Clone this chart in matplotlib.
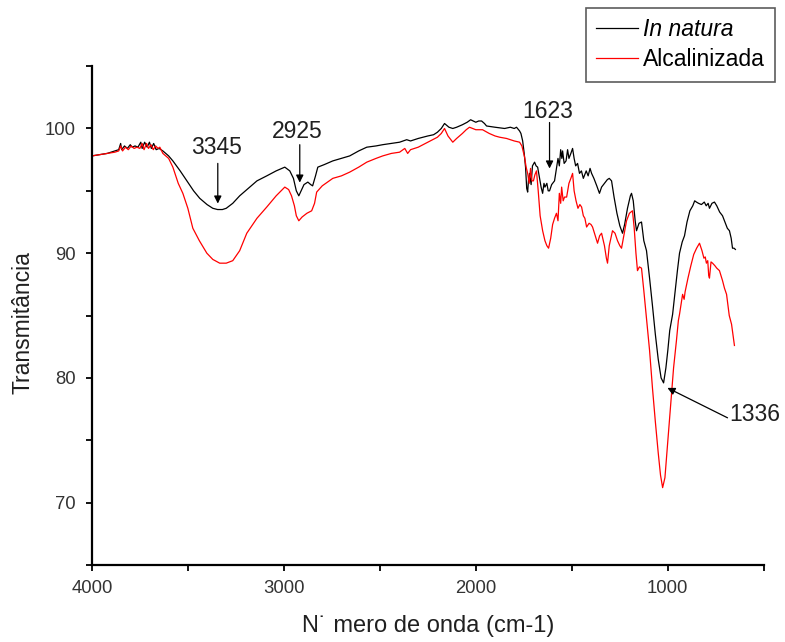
import matplotlib
matplotlib.use("Agg")
import matplotlib.pyplot as plt
from matplotlib.ticker import MultipleLocator

plt.rcParams['font.family'] = ['Liberation Sans', 'DejaVu Sans']

# In natura spectrum (wavenumber cm-1, transmittance %)
wn_natura = [4000, 3960, 3920, 3880, 3860, 3850, 3845, 3830, 3815, 3800, 3790, 3775, 3760, 3745, 3738,
             3725, 3712, 3700, 3690, 3678, 3665, 3650, 3630, 3600, 3578, 3540, 3505, 3470, 3438, 3400,
             3370, 3345, 3320, 3300, 3266, 3230, 3200, 3177, 3140, 3089, 3040, 2995, 2969, 2950, 2935,
             2922, 2910, 2895, 2875, 2860, 2850, 2835, 2823, 2790, 2745, 2700, 2657, 2610, 2568, 2520,
             2485, 2440, 2397, 2360, 2340, 2300, 2250, 2220, 2200, 2180, 2163, 2140, 2120, 2100, 2070,
             2045, 2027, 2000, 1985, 1970, 1955, 1944, 1900, 1850, 1820, 1800, 1788, 1772, 1765, 1756,
             1748, 1741, 1735, 1730, 1725, 1720, 1712, 1705, 1694, 1686, 1678, 1668, 1660, 1652, 1645,
             1640, 1630, 1623, 1616, 1605, 1590, 1580, 1572, 1565, 1558, 1552, 1548, 1540, 1530, 1522,
             1515, 1505, 1496, 1488, 1480, 1470, 1460, 1450, 1440, 1425, 1415, 1405, 1397, 1385, 1370,
             1356, 1345, 1330, 1315, 1305, 1293, 1280, 1265, 1250, 1236, 1225, 1210, 1195, 1189, 1180,
             1170, 1163, 1150, 1137, 1125, 1111, 1095, 1080, 1065, 1050, 1035, 1022, 1010, 1000, 990,
             975, 960, 950, 939, 925, 913, 900, 885, 870, 860, 851, 840, 825, 810, 800,
             790, 783, 770, 757, 745, 730, 715, 705, 690, 679, 670, 663, 655, 648]
t_natura = [97.8, 97.9, 98.0, 98.2, 98.3, 98.8, 98.3, 98.6, 98.4, 98.7, 98.5, 98.6, 98.5, 98.9, 98.4,
            98.9, 98.5, 98.9, 98.4, 98.8, 98.3, 98.4, 98.2, 97.8, 97.4, 96.6, 95.8, 95.0, 94.4, 93.9,
            93.6, 93.5, 93.5, 93.6, 94.0, 94.6, 95.0, 95.3, 95.8, 96.2, 96.6, 96.9, 96.6, 96.0, 95.0,
            94.6, 95.0, 95.5, 95.7, 95.5, 95.4, 96.2, 96.9, 97.1, 97.4, 97.6, 97.8, 98.2, 98.5, 98.6,
            98.7, 98.8, 98.9, 99.1, 99.0, 99.2, 99.4, 99.5, 99.7, 100.0, 100.4, 100.1, 100.0, 100.1, 100.3,
            100.5, 100.7, 100.5, 100.6, 100.6, 100.4, 100.2, 100.1, 100.0, 100.1, 100.0, 100.1, 99.8, 99.6, 99.0,
            98.0, 96.9, 95.2, 94.9, 96.0, 96.4, 95.5, 97.0, 97.3, 97.0, 96.9, 96.0, 95.3, 94.8, 95.6,
            95.3, 95.6, 95.0, 95.0, 95.5, 95.8, 96.8, 97.6, 97.0, 98.3, 97.6, 98.2, 97.2, 97.4, 98.3,
            97.6, 98.0, 98.4, 97.6, 97.0, 97.2, 96.4, 96.6, 96.0, 96.6, 96.2, 96.8, 96.4, 96.0, 95.4,
            94.8, 95.3, 95.6, 95.9, 96.0, 95.8, 94.5, 93.2, 92.2, 91.6, 92.3, 93.6, 94.6, 94.8, 94.2,
            92.6, 91.8, 92.4, 92.5, 91.0, 90.2, 88.0, 85.8, 83.5, 81.5, 80.0, 79.6, 80.8, 82.2, 83.8,
            85.1, 87.2, 88.6, 90.0, 90.9, 91.4, 92.5, 93.4, 93.8, 94.2, 94.1, 94.0, 93.9, 94.1, 93.8,
            94.0, 93.6, 94.0, 94.1, 93.8, 93.3, 93.0, 92.6, 92.0, 91.8, 91.2, 90.4, 90.4, 90.3]

# Alkalinized spectrum
wn_alcal = [4000, 3960, 3920, 3880, 3860, 3850, 3840, 3825, 3810, 3795, 3780, 3765, 3750, 3738, 3728,
            3715, 3705, 3692, 3680, 3668, 3655, 3646, 3630, 3600, 3578, 3550, 3526, 3500, 3474, 3440,
            3401, 3370, 3334, 3300, 3266, 3230, 3193, 3140, 3089, 3040, 2995, 2975, 2960, 2945, 2935,
            2922, 2905, 2880, 2855, 2840, 2829, 2800, 2745, 2700, 2657, 2610, 2568, 2520, 2485, 2440,
            2397, 2370, 2355, 2340, 2300, 2250, 2200, 2180, 2163, 2145, 2120, 2100, 2070, 2050, 2033,
            2000, 1965, 1930, 1900, 1876, 1840, 1800, 1772, 1760, 1746, 1738, 1730, 1722, 1715, 1708,
            1700, 1692, 1684, 1675, 1665, 1652, 1640, 1630, 1621, 1610, 1600, 1590, 1580, 1572, 1565,
            1558, 1553, 1545, 1538, 1527, 1515, 1505, 1496, 1488, 1478, 1468, 1458, 1449, 1440, 1432,
            1423, 1410, 1400, 1392, 1380, 1366, 1355, 1345, 1330, 1320, 1314, 1305, 1288, 1275, 1262,
            1250, 1241, 1228, 1215, 1200, 1184, 1175, 1166, 1158, 1148, 1137, 1125, 1111, 1095, 1080,
            1065, 1050, 1038, 1027, 1015, 1000, 985, 970, 955, 945, 939, 930, 923, 915, 910,
            895, 880, 865, 850, 835, 822, 812, 805, 799, 792, 787, 783, 775, 767, 755,
            745, 731, 715, 705, 694, 680, 668, 660, 653]
t_alcal = [97.8, 97.9, 98.0, 98.1, 98.2, 98.6, 98.2, 98.5, 98.3, 98.6, 98.4, 98.5, 98.4, 98.8, 98.3,
           98.8, 98.4, 98.7, 98.3, 98.6, 98.4, 98.5, 98.0, 97.6, 96.9, 95.6, 94.8, 93.6, 92.0, 91.0,
           90.0, 89.5, 89.2, 89.2, 89.4, 90.2, 91.6, 92.8, 93.7, 94.6, 95.3, 95.1, 94.6, 93.8, 93.0,
           92.6, 92.9, 93.2, 93.4, 94.0, 94.9, 95.4, 96.0, 96.2, 96.5, 96.9, 97.3, 97.6, 97.8, 98.0,
           98.1, 98.4, 98.0, 98.3, 98.5, 98.9, 99.3, 99.6, 100.0, 99.4, 98.9, 99.2, 99.6, 99.9, 100.1,
           99.9, 99.9, 99.6, 99.4, 99.3, 99.2, 99.0, 98.9, 98.6, 97.7, 96.9, 96.4, 95.6, 96.8, 95.8,
           95.8, 96.3, 96.6, 95.0, 93.0, 91.8, 91.0, 90.6, 90.4, 91.2, 92.3, 92.8, 93.2, 92.6, 94.8,
           94.0, 95.3, 94.2, 94.5, 94.5, 95.6, 96.0, 96.4, 95.0, 94.2, 93.6, 93.9, 93.7, 93.0, 92.8,
           92.1, 92.4, 92.3, 92.1, 91.5, 90.8, 91.4, 91.6, 90.6, 89.6, 89.2, 90.6, 91.8, 91.6, 91.0,
           90.6, 90.4, 91.5, 92.6, 93.2, 93.4, 92.0, 90.0, 88.6, 88.9, 88.8, 87.0, 84.8, 82.2, 79.2,
           76.5, 74.0, 72.2, 71.2, 72.0, 74.9, 77.8, 80.8, 83.0, 84.6, 85.1, 86.0, 86.7, 86.3, 86.9,
           88.0, 89.0, 89.9, 90.4, 90.8, 90.2, 89.6, 89.7, 89.2, 89.4, 88.2, 88.0, 89.3, 89.2, 89.0,
           88.8, 88.6, 87.8, 87.2, 86.7, 85.0, 84.3, 83.4, 82.6]

# band labels: text, text position, arrow tail, arrow tip
band_labels = ["3345", "2925", "1623", "1336"]
label_pos = [(3352, 98.5), (2928, 99.76), (1626, 101.33), (679, 77.03)]
arrow_tail = [(3344, 97.2), (2917, 98.7), (1616, 100.48), (689, 76.8)]
arrow_tip = [(3344, 93.98), (2917, 95.66), (1616, 96.79), (1002, 79.2)]

fig = plt.figure(figsize=(7.85, 6.42), dpi=100)
ax = fig.add_axes([0.117, 0.12, 0.856, 0.777])

ax.plot(wn_natura, t_natura, color='black', lw=0.9, label='In natura')
ax.plot(wn_alcal, t_alcal, color='red', lw=0.9, label='Alcalinizada')

for i, txt in enumerate(band_labels):
    ha = 'left' if txt == "1336" else 'center'
    ax.text(label_pos[i][0], label_pos[i][1], txt, fontsize=16.5, color='#202020',
            ha=ha, va='center')
    ax.annotate('', xy=arrow_tip[i], xytext=arrow_tail[i],
                arrowprops=dict(arrowstyle='-|>', color='black', lw=0.9,
                                mutation_scale=11, shrinkA=0, shrinkB=0))

ax.set_xlim(4000, 500)
ax.set_ylim(65, 105)
ax.xaxis.set_major_locator(MultipleLocator(1000))
ax.xaxis.set_minor_locator(MultipleLocator(500))
ax.yaxis.set_major_locator(MultipleLocator(10))
ax.yaxis.set_minor_locator(MultipleLocator(5))
ax.set_yticks([70, 80, 90, 100])

for side in ['top', 'right']:
    ax.spines[side].set_visible(False)
for side in ['left', 'bottom']:
    ax.spines[side].set_linewidth(1.6)

ax.tick_params(which='both', direction='out', length=4.5, width=1.3, labelsize=13.3,
               labelcolor='#333333')
ax.tick_params(axis='x', pad=6)
ax.tick_params(axis='y', pad=7)

ax.set_xlabel('N\u02d9 mero de onda (cm-1)', fontsize=17, color='#202020')
ax.set_ylabel('Transmitância', fontsize=16.5, color='#202020')
ax.xaxis.set_label_coords(0.5, -0.1)
ax.yaxis.set_label_coords(-0.085, 0.485)

leg = ax.legend(loc='upper left', bbox_to_anchor=(0.7465, 0.9875), bbox_transform=fig.transFigure,
                fontsize=16.5, frameon=True, fancybox=False, edgecolor='#333333',
                handlelength=1.8, handletextpad=0.25, borderpad=0.45, labelspacing=0.3,
                borderaxespad=0)
leg.get_frame().set_linewidth(1.2)
leg.get_texts()[0].set_fontstyle('italic')

fig.savefig('out.png', dpi=100)
